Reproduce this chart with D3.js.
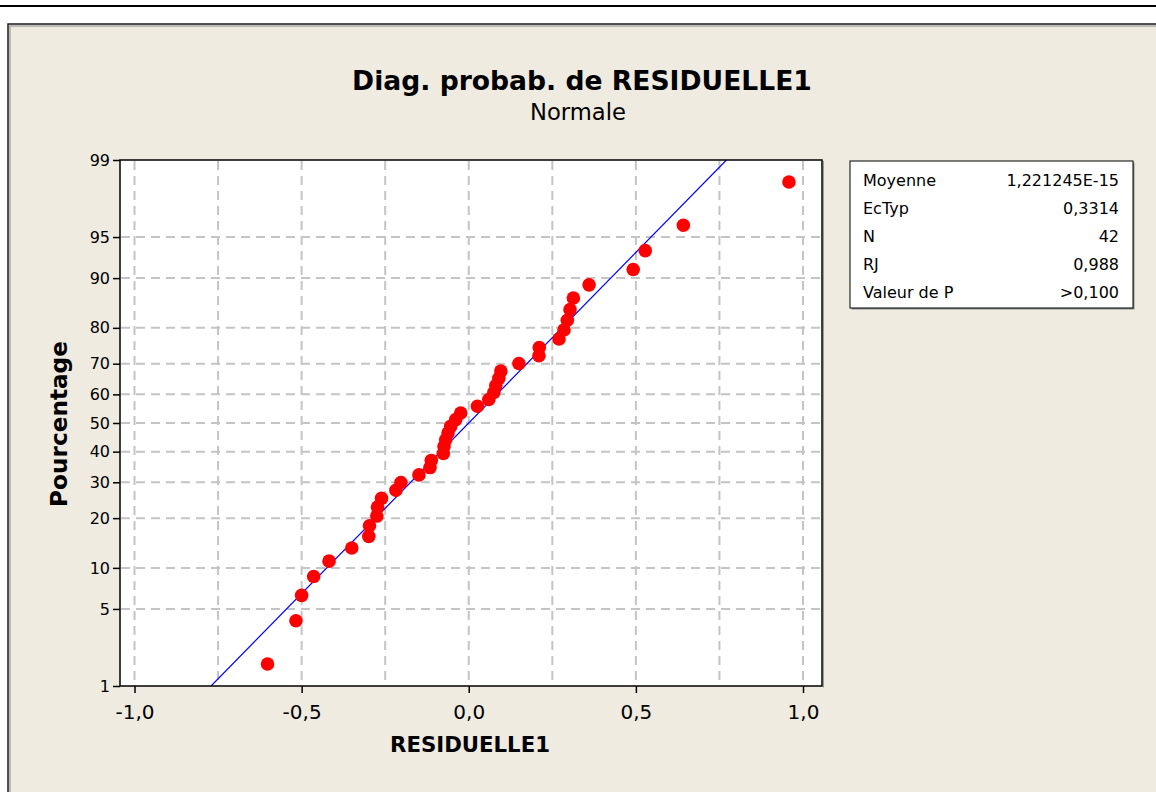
<!DOCTYPE html>
<html>
<head>
<meta charset="utf-8">
<script src="https://cdn.jsdelivr.net/npm/d3@7"></script>
<style>
  html, body { margin: 0; padding: 0; background: #ffffff; }
  svg { display: block; }
  text { font-family: "DejaVu Sans", Verdana, sans-serif; }
</style>
</head>
<body>
<svg id="chart" width="1156" height="792"></svg>
<script>
// ---- Data ----
const title = "Diag. probab. de RESIDUELLE1";
const subtitle = "Normale";
const xLabel = "RESIDUELLE1";
const yLabel = "Pourcentage";

// sorted residuals (42 values)
const residuals = [
  -0.602, -0.517, -0.500, -0.464, -0.418, -0.350, -0.299, -0.297, -0.275, -0.273,
  -0.261, -0.218, -0.203, -0.149, -0.116, -0.112, -0.076, -0.074, -0.069, -0.062,
  -0.054, -0.039, -0.024,  0.026,  0.060,  0.075,  0.081,  0.090,  0.096,  0.150,
   0.210,  0.211,  0.270,  0.285,  0.295,  0.303,  0.313,  0.360,  0.492,  0.528,
   0.642,  0.958
];

const xTicks = [-1.0, -0.5, 0.0, 0.5, 1.0];
const xGrid = [-1.0, -0.75, -0.5, -0.25, 0.0, 0.25, 0.5, 0.75, 1.0];
const yTicks = [1, 5, 10, 20, 30, 40, 50, 60, 70, 80, 90, 95, 99];

const statLabels = ["Moyenne", "EcTyp", "N", "RJ", "Valeur de P"];
const statValues = ["1,221245E-15", "0,3314", "42", "0,988", ">0,100"];
const fitMean = 1.221245e-15;
const fitSd = 0.3314;

// ---- Helpers ----
// inverse standard normal CDF (Acklam)
function probit(p) {
  const a = [-3.969683028665376e+01, 2.209460984245205e+02, -2.759285104469687e+02, 1.383577518672690e+02, -3.066479806614716e+01, 2.506628277459239e+00];
  const b = [-5.447609879822406e+01, 1.615858368580409e+02, -1.556989798598866e+02, 6.680131188771972e+01, -1.328068155288572e+01];
  const c = [-7.784894002430293e-03, -3.223964580411365e-01, -2.400758277161838e+00, -2.549671743400348e+00, 4.374664141464968e+00, 2.938163982698783e+00];
  const d = [7.784695709041462e-03, 3.224671290700398e-01, 2.445134137142996e+00, 3.754408661907416e+00];
  const pl = 0.02425, ph = 1 - pl;
  let q, r;
  if (p < pl) {
    q = Math.sqrt(-2 * Math.log(p));
    return (((((c[0]*q+c[1])*q+c[2])*q+c[3])*q+c[4])*q+c[5]) / ((((d[0]*q+d[1])*q+d[2])*q+d[3])*q+1);
  } else if (p <= ph) {
    q = p - 0.5; r = q*q;
    return (((((a[0]*r+a[1])*r+a[2])*r+a[3])*r+a[4])*r+a[5])*q / (((((b[0]*r+b[1])*r+b[2])*r+b[3])*r+b[4])*r+1);
  } else {
    q = Math.sqrt(-2 * Math.log(1 - p));
    return -(((((c[0]*q+c[1])*q+c[2])*q+c[3])*q+c[4])*q+c[5]) / ((((d[0]*q+d[1])*q+d[2])*q+d[3])*q+1);
  }
}
const fmt = v => d3.format(".1f")(v).replace(".", ",").replace("−", "-");

// ---- Layout ----
const svg = d3.select("#chart");
const W = 1156, H = 792;
const plot = { left: 120, right: 822, top: 160, bottom: 686 };

// top rule
svg.append("rect").attr("x", 0).attr("y", 5).attr("width", W).attr("height", 2).attr("fill", "#000");
// panel
svg.append("rect").attr("x", 8).attr("y", 24).attr("width", W + 10).attr("height", H)
  .attr("fill", "#EFEBE1").attr("stroke", "#1a1a1a").attr("stroke-width", 1.5);
svg.append("line").attr("x1", 9.5).attr("x2", W).attr("y1", 26).attr("y2", 26).attr("stroke", "#8a8a86").attr("stroke-width", 1);
svg.append("line").attr("x1", 10).attr("x2", 10).attr("y1", 26).attr("y2", H).attr("stroke", "#8a8a86").attr("stroke-width", 1);

// scales
const x = d3.scaleLinear().domain([-1.0, 1.0]).range([134.5, 803]);
const zLo = probit(0.01), zHi = probit(0.99);
const yz = d3.scaleLinear().domain([zLo, zHi]).range([plot.bottom, plot.top]);
const y = p => yz(probit(p / 100));

// plot background
svg.append("rect").attr("x", plot.left).attr("y", plot.top)
  .attr("width", plot.right - plot.left).attr("height", plot.bottom - plot.top)
  .attr("fill", "#ffffff");

// gridlines
const grid = svg.append("g").attr("stroke", "#c4c4c4").attr("stroke-width", 2).attr("stroke-dasharray", "9,6");
xGrid.forEach(v => {
  grid.append("line").attr("x1", x(v)).attr("x2", x(v)).attr("y1", plot.top + 1).attr("y2", plot.bottom - 1);
});
yTicks.filter(t => t !== 1 && t !== 99).forEach(t => {
  grid.append("line").attr("x1", plot.left + 1).attr("x2", plot.right - 1).attr("y1", y(t)).attr("y2", y(t));
});

// clip
svg.append("clipPath").attr("id", "clip").append("rect")
  .attr("x", plot.left).attr("y", plot.top).attr("width", plot.right - plot.left).attr("height", plot.bottom - plot.top);

// fitted line
const zA = zLo, zB = zHi;
svg.append("line").attr("clip-path", "url(#clip)")
  .attr("x1", x(fitMean + fitSd * zA)).attr("y1", yz(zA))
  .attr("x2", x(fitMean + fitSd * zB)).attr("y2", yz(zB))
  .attr("stroke", "#0000ff").attr("stroke-width", 1.2);

// points (Minitab median-rank plotting positions)
const n = residuals.length;
const pts = residuals.map((v, i) => ({ v, p: 100 * (i + 1 - 0.3) / (n + 0.4) }));
svg.append("g").selectAll("circle").data(pts).join("circle")
  .attr("cx", d => x(d.v)).attr("cy", d => y(d.p)).attr("r", 6.8)
  .attr("fill", "#ff0000");

// frame
svg.append("rect").attr("x", plot.left).attr("y", plot.top)
  .attr("width", plot.right - plot.left).attr("height", plot.bottom - plot.top)
  .attr("fill", "none").attr("stroke", "#000").attr("stroke-width", 1.5);
// right/bottom shadow
svg.append("line").attr("x1", plot.right + 1.5).attr("x2", plot.right + 1.5).attr("y1", plot.top + 1).attr("y2", plot.bottom + 1.5).attr("stroke", "#9a9a9a");

// x axis
const xAxis = d3.axisBottom(x).tickValues(xTicks).tickSize(7).tickSizeOuter(0).tickFormat(fmt);
const gx = svg.append("g").attr("transform", `translate(0,${plot.bottom})`).call(xAxis)
  .attr("font-size", null).attr("font-family", null);
gx.select(".domain").remove();
gx.selectAll("line").attr("stroke", "#000").attr("stroke-width", 1.5);
gx.selectAll("text").style("font-size", "20px").attr("fill", "#000").attr("y", 14).attr("dy", "0.95em");

// y axis
const yAxis = d3.axisLeft(yz).tickValues(yTicks.map(t => probit(t / 100))).tickSize(7).tickSizeOuter(0)
  .tickFormat((d, i) => yTicks[i]);
const gy = svg.append("g").attr("transform", `translate(${plot.left},0)`).call(yAxis)
  .attr("font-size", null).attr("font-family", null);
gy.select(".domain").remove();
gy.selectAll("line").attr("stroke", "#000").attr("stroke-width", 1.5);
gy.selectAll("text").style("font-size", "16px").attr("fill", "#000").attr("x", -10);

// titles
function fitText(sel, target) {
  const w = sel.node().getComputedTextLength();
  const fs = parseFloat(sel.attr("font-size"));
  sel.attr("font-size", fs * target / w);
}
const tt = svg.append("text").attr("x", 582).attr("y", 90).attr("text-anchor", "middle")
  .attr("font-size", 22).attr("font-weight", "bold").attr("fill", "#000").text(title);
fitText(tt, 460);
const st = svg.append("text").attr("x", 578).attr("y", 120).attr("text-anchor", "middle")
  .attr("font-size", 18).attr("fill", "#000").text(subtitle);
fitText(st, 96);
const xl = svg.append("text").attr("x", 470).attr("y", 752).attr("text-anchor", "middle")
  .attr("font-size", 18).attr("font-weight", "bold").attr("fill", "#000").text(xLabel);
fitText(xl, 160);
const yl = svg.append("text").attr("transform", `translate(67,${424}) rotate(-90)`).attr("text-anchor", "middle")
  .attr("font-size", 20).attr("font-weight", "bold").attr("fill", "#000").text(yLabel);
fitText(yl, 166);

// stats box
const box = { x: 850, y: 161, w: 283, h: 147 };
svg.append("rect").attr("x", box.x + 1.5).attr("y", box.y + 1.5).attr("width", box.w).attr("height", box.h).attr("fill", "#8c8c8c");
svg.append("rect").attr("x", box.x).attr("y", box.y).attr("width", box.w).attr("height", box.h)
  .attr("fill", "#fff").attr("stroke", "#000").attr("stroke-width", 1);
const rowY = d3.scaleLinear().domain([0, statLabels.length - 1]).range([box.y + 25, box.y + 137]);
const gs = svg.append("g").attr("font-size", 16).attr("fill", "#000");
statLabels.forEach((s, i) => {
  gs.append("text").attr("x", 863).attr("y", rowY(i)).text(s);
  gs.append("text").attr("x", 1119).attr("y", rowY(i)).attr("text-anchor", "end").text(statValues[i]);
});
</script>
</body>
</html>
